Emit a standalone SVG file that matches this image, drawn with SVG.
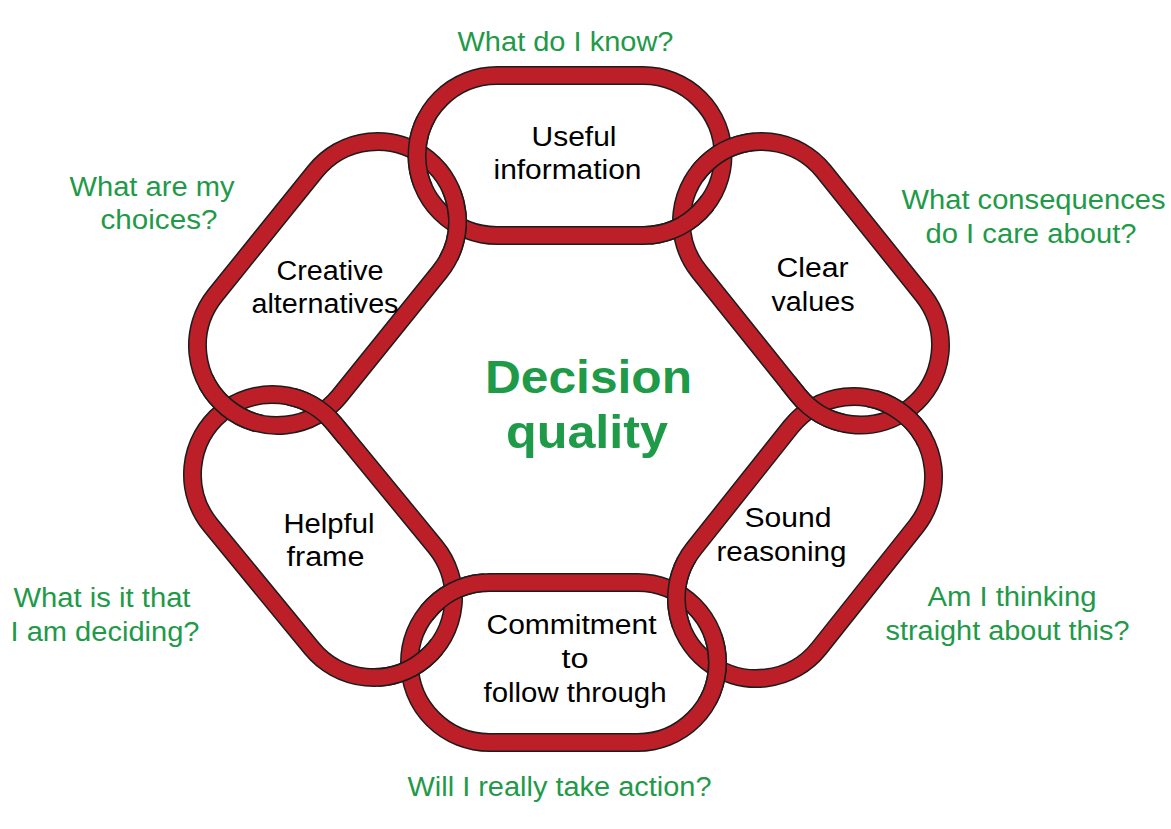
<svg xmlns="http://www.w3.org/2000/svg" xmlns:xlink="http://www.w3.org/1999/xlink" width="1171" height="829" viewBox="0 0 1171 829">
<style>
.ol{fill:none;stroke:#1c1c1c;stroke-width:19}
.bd{fill:none;stroke:#BD1F29;stroke-width:16}
.lbl{font-family:"Liberation Sans",Arial,sans-serif;font-size:27px;fill:#000;text-anchor:middle}
.q{font-family:"Liberation Sans",Arial,sans-serif;font-size:27px;fill:#1E9A48;text-anchor:middle}
.title{font-family:"Liberation Sans",Arial,sans-serif;font-size:46px;font-weight:bold;fill:#1E9A48;text-anchor:middle}
clipPath circle{shape-rendering:crispEdges}
.ov{opacity:0.999}
</style>
<defs>
<rect id="s-top" x="-153" y="-80" width="306" height="160" rx="80" transform="translate(570,155.5)"/>
<rect id="s-clear" x="-159.15" y="-80" width="318.3" height="160" rx="80" transform="translate(811,283.25) rotate(51.3)"/>
<rect id="s-sound" x="-157.95" y="-80" width="315.9" height="160" rx="80" transform="translate(805,537.5) rotate(-51.5)"/>
<rect id="s-bottom" x="-154" y="-80" width="308" height="160" rx="80" transform="translate(563.5,662.5)"/>
<rect id="s-helpful" x="-159.6" y="-80" width="319.2" height="160" rx="80" transform="translate(323,536) rotate(50.6)"/>
<rect id="s-creative" x="-159.65" y="-80" width="319.3" height="160" rx="80" transform="translate(327.5,283.5) rotate(-51.1)"/>
<clipPath id="c1"><circle cx="723" cy="151.4" r="36"/></clipPath>
<clipPath id="c2"><circle cx="681.5" cy="225.6" r="36"/></clipPath>
<clipPath id="c3"><circle cx="902.3" cy="413.2" r="36"/></clipPath>
<clipPath id="c4"><circle cx="811.7" cy="408.3" r="36"/></clipPath>
<clipPath id="c5"><circle cx="717.3" cy="668.25" r="36"/></clipPath>
<clipPath id="c6"><circle cx="676.7" cy="592.75" r="36"/></clipPath>
<clipPath id="c7"><circle cx="409.7" cy="668.8" r="36"/></clipPath>
<clipPath id="c8"><circle cx="453.3" cy="591.2" r="36"/></clipPath>
<clipPath id="c9"><circle cx="227.8" cy="408.2" r="36"/></clipPath>
<clipPath id="c10"><circle cx="322.2" cy="411.8" r="36"/></clipPath>
<clipPath id="c11"><circle cx="417" cy="152" r="36"/></clipPath>
<clipPath id="c12"><circle cx="457.4" cy="225" r="36"/></clipPath>
</defs>
<rect width="1171" height="829" fill="#fff"/>

<g id="link-useful-information">
<use xlink:href="#s-top" href="#s-top" class="ol"/>
<use xlink:href="#s-top" href="#s-top" class="bd"/>
<text class="lbl" x="574" y="146" textLength="85" lengthAdjust="spacingAndGlyphs">Useful</text>
<text class="lbl" x="567.5" y="179" textLength="148" lengthAdjust="spacingAndGlyphs">information</text>
</g>
<g id="link-clear-values">
<use xlink:href="#s-clear" href="#s-clear" class="ol"/>
<use xlink:href="#s-clear" href="#s-clear" class="bd"/>
<text class="lbl" x="812.5" y="277" textLength="72" lengthAdjust="spacingAndGlyphs">Clear</text>
<text class="lbl" x="813" y="311" textLength="83" lengthAdjust="spacingAndGlyphs">values</text>
</g>
<g id="link-sound-reasoning">
<use xlink:href="#s-sound" href="#s-sound" class="ol"/>
<use xlink:href="#s-sound" href="#s-sound" class="bd"/>
<text class="lbl" x="788" y="527" textLength="87" lengthAdjust="spacingAndGlyphs">Sound</text>
<text class="lbl" x="781.5" y="561" textLength="130" lengthAdjust="spacingAndGlyphs">reasoning</text>
</g>
<g id="link-commitment">
<use xlink:href="#s-bottom" href="#s-bottom" class="ol"/>
<use xlink:href="#s-bottom" href="#s-bottom" class="bd"/>
<text class="lbl" x="571.5" y="634" textLength="170" lengthAdjust="spacingAndGlyphs">Commitment</text>
<text class="lbl" x="575" y="668" textLength="27" lengthAdjust="spacingAndGlyphs">to</text>
<text class="lbl" x="575" y="702" textLength="183" lengthAdjust="spacingAndGlyphs">follow through</text>
</g>
<g id="link-helpful-frame">
<use xlink:href="#s-helpful" href="#s-helpful" class="ol"/>
<use xlink:href="#s-helpful" href="#s-helpful" class="bd"/>
<text class="lbl" x="329" y="533" textLength="91" lengthAdjust="spacingAndGlyphs">Helpful</text>
<text class="lbl" x="325.5" y="566" textLength="78" lengthAdjust="spacingAndGlyphs">frame</text>
</g>
<g id="link-creative-alternatives">
<use xlink:href="#s-creative" href="#s-creative" class="ol"/>
<use xlink:href="#s-creative" href="#s-creative" class="bd"/>
<text class="lbl" x="330" y="280" textLength="107" lengthAdjust="spacingAndGlyphs">Creative</text>
<text class="lbl" x="325" y="313" textLength="147" lengthAdjust="spacingAndGlyphs">alternatives</text>
</g>

<g id="interlocks">
<g class="ov" clip-path="url(#c1)"><use xlink:href="#s-clear" href="#s-clear" class="ol"/><use xlink:href="#s-clear" href="#s-clear" class="bd"/></g>
<g class="ov" clip-path="url(#c2)"><use xlink:href="#s-top" href="#s-top" class="ol"/><use xlink:href="#s-top" href="#s-top" class="bd"/></g>
<g class="ov" clip-path="url(#c3)"><use xlink:href="#s-sound" href="#s-sound" class="ol"/><use xlink:href="#s-sound" href="#s-sound" class="bd"/></g>
<g class="ov" clip-path="url(#c4)"><use xlink:href="#s-clear" href="#s-clear" class="ol"/><use xlink:href="#s-clear" href="#s-clear" class="bd"/></g>
<g class="ov" clip-path="url(#c5)"><use xlink:href="#s-bottom" href="#s-bottom" class="ol"/><use xlink:href="#s-bottom" href="#s-bottom" class="bd"/></g>
<g class="ov" clip-path="url(#c6)"><use xlink:href="#s-sound" href="#s-sound" class="ol"/><use xlink:href="#s-sound" href="#s-sound" class="bd"/></g>
<g class="ov" clip-path="url(#c7)"><use xlink:href="#s-helpful" href="#s-helpful" class="ol"/><use xlink:href="#s-helpful" href="#s-helpful" class="bd"/></g>
<g class="ov" clip-path="url(#c8)"><use xlink:href="#s-bottom" href="#s-bottom" class="ol"/><use xlink:href="#s-bottom" href="#s-bottom" class="bd"/></g>
<g class="ov" clip-path="url(#c9)"><use xlink:href="#s-creative" href="#s-creative" class="ol"/><use xlink:href="#s-creative" href="#s-creative" class="bd"/></g>
<g class="ov" clip-path="url(#c10)"><use xlink:href="#s-helpful" href="#s-helpful" class="ol"/><use xlink:href="#s-helpful" href="#s-helpful" class="bd"/></g>
<g class="ov" clip-path="url(#c11)"><use xlink:href="#s-top" href="#s-top" class="ol"/><use xlink:href="#s-top" href="#s-top" class="bd"/></g>
<g class="ov" clip-path="url(#c12)"><use xlink:href="#s-creative" href="#s-creative" class="ol"/><use xlink:href="#s-creative" href="#s-creative" class="bd"/></g>
</g>

<g id="center-title">
<text class="title" x="588.5" y="393" textLength="207" lengthAdjust="spacingAndGlyphs">Decision</text>
<text class="title" x="587" y="448" textLength="162" lengthAdjust="spacingAndGlyphs">quality</text>
</g>

<g id="questions">
<text class="q" x="565.5" y="51" textLength="216" lengthAdjust="spacingAndGlyphs">What do I know?</text>
<text class="q" x="152" y="196" textLength="165" lengthAdjust="spacingAndGlyphs">What are my</text>
<text class="q" x="159" y="229" textLength="117" lengthAdjust="spacingAndGlyphs">choices?</text>
<text class="q" x="1033.5" y="209" textLength="264" lengthAdjust="spacingAndGlyphs">What consequences</text>
<text class="q" x="1031" y="243" textLength="211" lengthAdjust="spacingAndGlyphs">do I care about?</text>
<text class="q" x="1012" y="606" textLength="169" lengthAdjust="spacingAndGlyphs">Am I thinking</text>
<text class="q" x="1007.5" y="640" textLength="244" lengthAdjust="spacingAndGlyphs">straight about this?</text>
<text class="q" x="102" y="607" textLength="177" lengthAdjust="spacingAndGlyphs">What is it that</text>
<text class="q" x="105" y="641" textLength="189" lengthAdjust="spacingAndGlyphs">I am deciding?</text>
<text class="q" x="559.5" y="796" textLength="304" lengthAdjust="spacingAndGlyphs">Will I really take action?</text>
</g>
</svg>
